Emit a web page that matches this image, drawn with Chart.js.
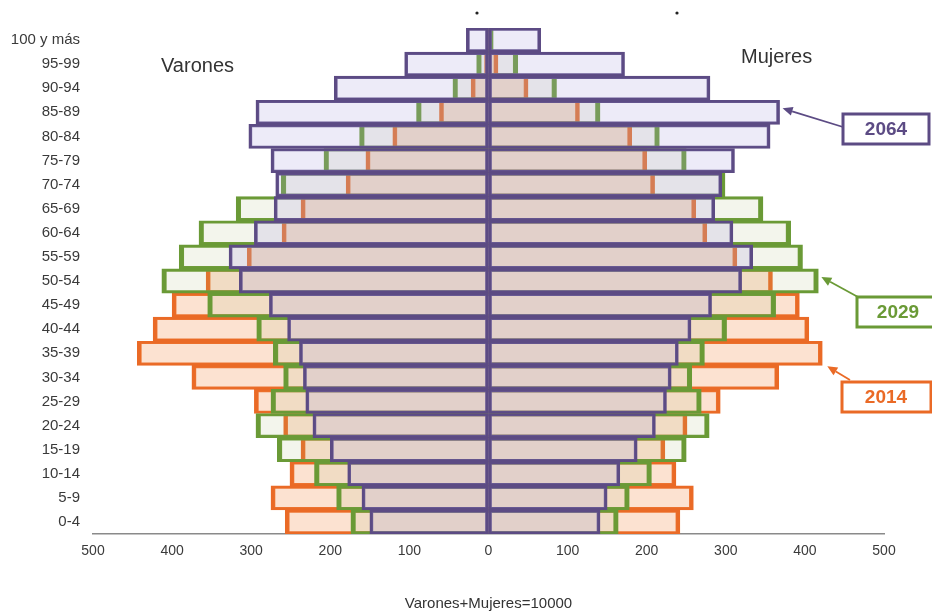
<!DOCTYPE html>
<html>
<head>
<meta charset="utf-8">
<script src="https://cdn.jsdelivr.net/npm/chart.js@4.4.1/dist/chart.umd.min.js"></script>
<style>
  html, body { margin: 0; padding: 0; background: #fff; }
  #wrap { width: 932px; height: 613px; position: relative; }
</style>
</head>
<body>
<div id="wrap"><canvas id="c" width="932" height="613"></canvas></div>
<script>
// Age groups, top to bottom
const categories = ["100 y más","95-99","90-94","85-89","80-84","75-79","70-74","65-69","60-64","55-59","50-54","45-49","40-44","35-39","30-34","25-29","20-24","15-19","10-14","5-9","0-4"];

// Varones (men) per 10000 inhabitants
const varones2064 = [28,106,195,294,303,275,269,271,296,328,315,277,254,239,234,231,222,200,178,160,150];
const varones2029 = [3,15,45,91,163,208,262,319,366,391,413,355,293,272,259,275,294,267,220,192,174];
const varones2014 = [1,5,22,62,121,155,180,237,261,305,357,400,424,444,375,296,259,237,251,275,257];

// Mujeres (women) per 10000 inhabitants
const mujeres2064 = [66,172,280,368,356,311,295,286,309,334,320,282,256,240,231,225,211,188,166,150,141];
const mujeres2029 = [6,37,86,141,216,250,299,347,382,397,417,363,301,273,257,269,279,250,206,178,164];
const mujeres2014 = [3,12,50,115,181,200,210,262,276,314,359,393,405,422,367,293,251,223,237,259,242];

const xTicks = [-500,-400,-300,-200,-100,0,100,200,300,400,500];

const C = {
  p: { border: '#5c4b84', bg: 'rgba(175,165,225,0.22)' },
  g: { border: '#6a9a36', bg: 'rgba(160,175,110,0.13)' },
  o: { border: '#ea6a26', bg: 'rgba(245,150,90,0.28)' }
};

function ds(label, values, sign, col, bw, skip) {
  return {
    label: label,
    data: values.map(v => sign * v),
    backgroundColor: col.bg,
    borderColor: col.border,
    borderWidth: bw,
    borderSkipped: skip,
    grouped: false,
    barPercentage: 1,
    categoryPercentage: 1
  };
}

const bwP = { top: 2.5, bottom: 2.5, left: 3, right: 3 };
const bwG = { top: 2.5, bottom: 2.5, left: 4.5, right: 4.5 };
const bwO = { top: 2.5, bottom: 2.5, left: 4, right: 4 };

// dataset 0 is drawn on top
const datasets = [
  ds('Varones 2064', varones2064, -1, C.p, bwP, false),
  ds('Mujeres 2064', mujeres2064, 1, C.p, bwP, false),
  ds('Varones 2029', varones2029, -1, C.g, bwG, 'start'),
  ds('Mujeres 2029', mujeres2029, 1, C.g, bwG, 'start'),
  ds('Varones 2014', varones2014, -1, C.o, bwO, 'start'),
  ds('Mujeres 2014', mujeres2014, 1, C.o, bwO, 'start')
];

const FONT = '"Liberation Sans", Arial, Helvetica, sans-serif';

function arrow(ctx, x1, y1, x2, y2, color) {
  ctx.strokeStyle = color; ctx.fillStyle = color; ctx.lineWidth = 1.8;
  const ang = Math.atan2(y2 - y1, x2 - x1);
  const L = 10, W = 4.5;
  const bx = x2 - L * Math.cos(ang), by = y2 - L * Math.sin(ang);
  ctx.beginPath(); ctx.moveTo(x1, y1); ctx.lineTo(bx, by); ctx.stroke();
  ctx.beginPath();
  ctx.moveTo(x2, y2);
  ctx.lineTo(bx + W * Math.sin(ang), by - W * Math.cos(ang));
  ctx.lineTo(bx - W * Math.sin(ang), by + W * Math.cos(ang));
  ctx.closePath(); ctx.fill();
}

function box(ctx, x, y, w, h, color, text, tx) {
  ctx.fillStyle = '#fff';
  ctx.fillRect(x, y, w, h);
  ctx.strokeStyle = color; ctx.lineWidth = 3;
  ctx.strokeRect(x, y, w, h);
  ctx.fillStyle = color;
  ctx.font = 'bold 19px ' + FONT;
  ctx.textAlign = 'center'; ctx.textBaseline = 'middle';
  ctx.fillText(text, tx, y + h / 2 + 1);
}

const annot = {
  id: 'annot',
  afterDraw(chart) {
    const { ctx } = chart;
    const x = chart.scales.x, y = chart.scales.y;
    ctx.save();
    ctx.fillStyle = '#333';
    ctx.font = '20px ' + FONT;
    ctx.textAlign = 'left'; ctx.textBaseline = 'middle';
    ctx.fillText('Varones', 161, 66);
    ctx.fillText('Mujeres', 741, 57);

    // small marks at the top
    ctx.fillStyle = '#222';
    ctx.beginPath(); ctx.arc(477, 13, 1.6, 0, Math.PI * 2); ctx.fill();
    ctx.beginPath(); ctx.arc(677, 13, 1.6, 0, Math.PI * 2); ctx.fill();

    // 2064 callout -> 85-89 women
    const i64 = categories.indexOf('85-89');
    arrow(ctx, 843, 127, x.getPixelForValue(mujeres2064[i64]) + 3, y.getPixelForValue(i64) - 4, C.p.border);
    box(ctx, 843, 114, 86, 30, C.p.border, '2064', 886);

    // 2029 callout -> 50-54 women
    const i29 = categories.indexOf('50-54');
    arrow(ctx, 858, 297, x.getPixelForValue(mujeres2029[i29]) + 3, y.getPixelForValue(i29) - 4, C.g.border);
    box(ctx, 857, 297, 90, 30, C.g.border, '2029', 898);

    // 2014 callout -> 35-39 women
    const i14 = categories.indexOf('35-39');
    arrow(ctx, 850, 380, x.getPixelForValue(mujeres2014[i14]) + 5, y.getPixelForValue(i14) + 13, C.o.border);
    box(ctx, 842, 382, 89, 30, C.o.border, '2014', 886);
    ctx.restore();
  }
};

new Chart(document.getElementById('c'), {
  type: 'bar',
  data: { labels: categories, datasets: datasets },
  options: {
    indexAxis: 'y',
    responsive: false,
    devicePixelRatio: 1,
    animation: false,
    layout: { padding: { left: 5, right: 48, top: 28, bottom: 0 } },
    plugins: { legend: { display: false }, tooltip: { enabled: false } },
    scales: {
      x: {
        type: 'linear',
        min: -500, max: 500,
        afterBuildTicks: s => { s.ticks = xTicks.map(v => ({ value: v })); },
        afterFit: s => { s.height = 79; },
        grid: { display: false },
        border: { display: true, color: '#8a8a8a', width: 1.5 },
        ticks: {
          padding: 1,
          color: '#3a3a3a',
          font: { family: FONT, size: 14 },
          callback: v => String(Math.abs(v))
        },
        title: {
          display: true,
          text: 'Varones+Mujeres=10000',
          color: '#333',
          font: { family: FONT, size: 15 },
          padding: { top: 0, bottom: 0 }
        }
      },
      y: {
        type: 'category',
        afterFit: s => { s.width = 88; },
        grid: { display: false },
        border: { display: false },
        ticks: {
          padding: 5,
          color: '#3a3a3a',
          font: { family: FONT, size: 15 },
          autoSkip: false
        }
      }
    }
  },
  plugins: [annot]
});
</script>
</body>
</html>
